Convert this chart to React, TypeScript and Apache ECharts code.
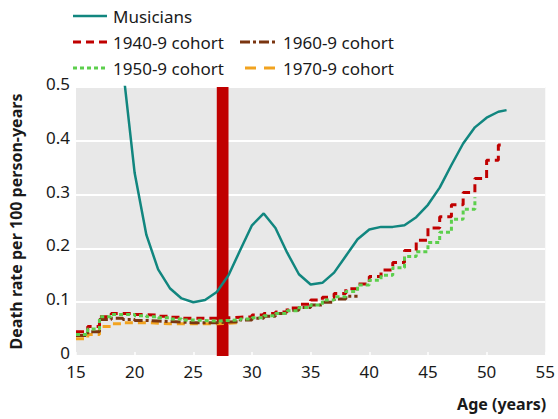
import React, { useEffect, useRef } from "react";
import * as echarts from "echarts";

const musicianAges = [19, 20, 21, 22, 23, 24, 25, 26, 27, 28, 29, 30, 31, 32, 33, 34, 35, 36, 37, 38, 39, 40, 41, 42, 43, 44, 45, 46, 47, 48, 49, 50, 51, 51.7];
const musicianRates = [0.535, 0.34, 0.225, 0.161, 0.126, 0.107, 0.1, 0.104, 0.119, 0.15, 0.197, 0.243, 0.265, 0.238, 0.192, 0.152, 0.133, 0.136, 0.155, 0.186, 0.217, 0.235, 0.24, 0.24, 0.243, 0.258, 0.281, 0.313, 0.355, 0.395, 0.425, 0.443, 0.454, 0.457];

const cohort1940Ages = [15, 16, 17, 18, 19, 20, 21, 22, 23, 24, 25, 26, 27, 28, 29, 30, 31, 32, 33, 34, 35, 36, 37, 38, 39, 40, 41, 42, 43, 44, 45, 46, 47, 48, 49, 50, 51, 51.6];
const cohort1940Rates = [0.045, 0.055, 0.073, 0.079, 0.079, 0.077, 0.076, 0.074, 0.072, 0.07, 0.07, 0.07, 0.071, 0.072, 0.073, 0.076, 0.079, 0.082, 0.089, 0.096, 0.104, 0.109, 0.116, 0.125, 0.134, 0.148, 0.16, 0.174, 0.196, 0.215, 0.238, 0.259, 0.281, 0.304, 0.33, 0.364, 0.392, 0.392];

const cohort1950Ages = [15, 16, 17, 18, 19, 20, 21, 22, 23, 24, 25, 26, 27, 28, 29, 30, 31, 32, 33, 34, 35, 36, 37, 38, 39, 40, 41, 42, 43, 44, 45, 46, 47, 48, 49];
const cohort1950Rates = [0.04, 0.05, 0.073, 0.077, 0.077, 0.075, 0.073, 0.071, 0.069, 0.067, 0.066, 0.065, 0.066, 0.067, 0.069, 0.071, 0.075, 0.079, 0.084, 0.09, 0.095, 0.104, 0.11, 0.12, 0.132, 0.141, 0.15, 0.164, 0.185, 0.194, 0.211, 0.23, 0.254, 0.273, 0.295];

const cohort1960Ages = [15, 16, 17, 18, 19, 20, 21, 22, 23, 24, 25, 26, 27, 28, 29, 30, 31, 32, 33, 34, 35, 36, 37, 38, 39];
const cohort1960Rates = [0.038, 0.045, 0.068, 0.07, 0.068, 0.066, 0.065, 0.064, 0.063, 0.062, 0.062, 0.062, 0.063, 0.064, 0.067, 0.07, 0.074, 0.079, 0.085, 0.09, 0.095, 0.1, 0.106, 0.111, 0.111];

const cohort1970Ages = [15, 16, 17, 18, 19, 20, 21, 22, 23, 24, 25, 26, 27, 28, 29];
const cohort1970Rates = [0.032, 0.04, 0.055, 0.06, 0.062, 0.062, 0.061, 0.06, 0.06, 0.06, 0.06, 0.06, 0.061, 0.062, 0.062];

const xTicks = { min: 15, max: 55, interval: 5 };
const yTicks = { min: 0, max: 0.5, interval: 0.1 };
const highlightAge = [27, 28];

const legendNames = ["Musicians", "1940-9 cohort", "1960-9 cohort", "1950-9 cohort", "1970-9 cohort"];

const FONT = "'Noto Sans', 'Open Sans', sans-serif";

const zip = (a: number[], b: number[]) => a.map((x, i) => [x, b[i]]);

export default function App() {
  const ref = useRef<HTMLDivElement>(null);
  useEffect(() => {
    if (!ref.current) return;
    const chart = echarts.init(ref.current, undefined, { renderer: "svg" });
    const teal = "#11867f";
    const red = "#c00000";
    const green = "#5ccf4c";
    const brown = "#7a3510";
    const orange = "#f2a31f";

    const legendLine = (x1: number, x2: number, y: number, color: string, dash: number[] | null, w = 3) => ({
      type: "line",
      shape: { x1, y1: y, x2, y2: y },
      style: { stroke: color, lineWidth: w, lineDash: dash || undefined },
    });
    const legendText = (x: number, y: number, text: string) => ({
      type: "text",
      x,
      y,
      style: { text, fill: "#1a1a1a", font: `17px ${FONT}`, verticalAlign: "middle" },
    });

    chart.setOption({
      animation: false,
      backgroundColor: "#ffffff",
      grid: { left: 72, right: 11, top: 87, bottom: 63, show: true, backgroundColor: "#e8e8e8", borderWidth: 0 },
      xAxis: {
        type: "value",
        min: xTicks.min,
        max: xTicks.max,
        interval: xTicks.interval,
        axisLine: { show: false },
        axisTick: { show: true, inside: true, length: 4, lineStyle: { color: "#ffffff", width: 1.5 } },
        splitLine: { show: false },
        axisLabel: { fontSize: 17, color: "#1a1a1a", fontFamily: FONT, margin: 7, lineHeight: 17 },
        name: "Age (years)",
        nameLocation: "end",
        nameGap: 1,
        nameTextStyle: { fontSize: 16, fontWeight: "bold", color: "#1a1a1a", fontFamily: FONT, align: "right", verticalAlign: "top", padding: [40, 0, 0, 0] },
      },
      yAxis: {
        type: "value",
        min: yTicks.min,
        max: yTicks.max,
        interval: yTicks.interval,
        axisLine: { show: false },
        axisTick: { show: false },
        splitLine: { show: true, lineStyle: { color: "#ffffff", width: 2 } },
        axisLabel: { fontSize: 17, color: "#1a1a1a", fontFamily: FONT, margin: 6, verticalAlign: "bottom", lineHeight: 7 },
        name: "Death rate per 100 person-years",
        nameLocation: "middle",
        nameGap: 52,
        nameTextStyle: { fontSize: 16, fontWeight: "bold", color: "#1a1a1a", fontFamily: FONT },
      },
      series: [
        {
          type: "line",
          name: "age27",
          data: [],
          z: 1,
          silent: true,
          markArea: {
            silent: true,
            itemStyle: { color: red, opacity: 1 },
            data: [[{ xAxis: highlightAge[0] }, { xAxis: highlightAge[1] }]],
          },
        },
        {
          type: "line",
          name: legendNames[4],
          step: "end",
          data: zip(cohort1970Ages, cohort1970Rates),
          showSymbol: false,
          z: 2,
          lineStyle: { color: orange, width: 3, type: [8, 5] },
        },
        {
          type: "line",
          name: legendNames[2],
          step: "end",
          data: zip(cohort1960Ages, cohort1960Rates),
          showSymbol: false,
          z: 3,
          lineStyle: { color: brown, width: 3, type: [10, 3, 3, 3] },
        },
        {
          type: "line",
          name: legendNames[1],
          step: "end",
          data: zip(cohort1940Ages, cohort1940Rates),
          showSymbol: false,
          z: 4,
          lineStyle: { color: red, width: 3, type: [8, 5] },
        },
        {
          type: "line",
          name: legendNames[3],
          step: "end",
          data: zip(cohort1950Ages, cohort1950Rates),
          showSymbol: false,
          z: 5,
          lineStyle: { color: green, width: 3, type: [4, 3] },
        },
        {
          type: "line",
          name: legendNames[0],
          data: zip(musicianAges, musicianRates),
          showSymbol: false,
          z: 6,
          lineStyle: { color: teal, width: 2.5 },
        },
      ],
      graphic: [
        legendLine(73, 107, 16, teal, null, 2.5),
        legendText(113, 16, legendNames[0]),
        legendLine(73, 107, 42, red, [8, 5]),
        legendText(113, 42, legendNames[1]),
        legendLine(240, 277, 42, brown, [10, 3, 3, 3]),
        legendText(283, 42, legendNames[2]),
        legendLine(73, 107, 68, green, [4, 3]),
        legendText(113, 68, legendNames[3]),
        legendLine(245, 277, 68, orange, [11, 8]),
        legendText(283, 68, legendNames[4]),
      ],
    });
    return () => chart.dispose();
  }, []);
  return <div ref={ref} style={{ position: "fixed", left: 0, top: 0, width: 558, height: 419 }} />;
}
